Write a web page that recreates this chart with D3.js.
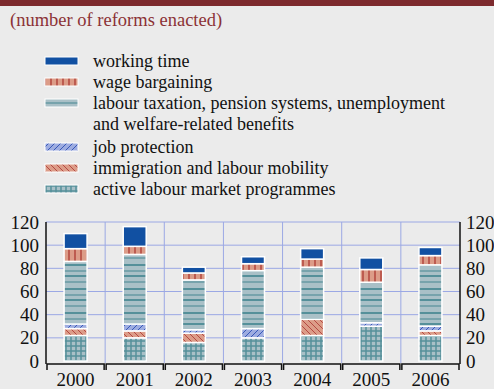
<!DOCTYPE html>
<html>
<head>
<meta charset="utf-8">
<script src="https://cdn.jsdelivr.net/npm/d3@7"></script>
<style>
  body { margin: 0; background: #ebebeb; }
  svg text { font-family: "Liberation Serif", "Times New Roman", serif; }
</style>
</head>
<body>
<svg id="chart" width="494" height="389"></svg>
<script>
var years = ["2000", "2001", "2002", "2003", "2004", "2005", "2006"];

// stacked bottom -> top
var active      = [22, 20, 16, 20, 22, 30, 22];
var immigration = [6, 6, 8, 0, 14, 0, 4];
var jobProt     = [4, 6, 3, 8, 0, 3, 4];
var labourTax   = [54, 60, 43, 50, 45, 35, 53];
var wage        = [11, 7, 6, 6, 7, 11, 8];
var workTime    = [13, 17, 5, 6, 9, 10, 7];

var yTicks = [0, 20, 40, 60, 80, 100, 120];

var series = [
  {key: "active", label: ["active labour market programmes"], values: active, fill: "url(#pActive)"},
  {key: "immig", label: ["immigration and labour mobility"], values: immigration, fill: "url(#pImmig)"},
  {key: "job", label: ["job protection"], values: jobProt, fill: "url(#pJob)"},
  {key: "labour", label: ["labour taxation, pension systems, unemployment", "and welfare-related benefits"], values: labourTax, fill: "url(#pLabour)"},
  {key: "wage", label: ["wage bargaining"], values: wage, fill: "url(#pWage)"},
  {key: "work", label: ["working time"], values: workTime, fill: "#1150a2"}
];

var svg = d3.select("#chart");

// background and top band
svg.append("rect").attr("width", 494).attr("height", 389).attr("fill", "#ebebeb");
svg.append("rect").attr("width", 494).attr("height", 6).attr("fill", "#7d2a2e");

svg.append("text")
    .attr("x", 10).attr("y", 26)
    .attr("font-size", 18.5)
    .attr("fill", "#8b3236")
    .text("(number of reforms enacted)");

// patterns
var defs = svg.append("defs");

function pat(id, w, h, bg) {
  var p = defs.append("pattern").attr("id", id)
      .attr("patternUnits", "userSpaceOnUse")
      .attr("width", w).attr("height", h);
  p.append("rect").attr("width", w).attr("height", h).attr("fill", bg);
  return p;
}

var p1 = pat("pWage", 6, 6, "#dc9c88");
p1.append("line").attr("x1", 3).attr("x2", 3).attr("y1", 0).attr("y2", 6)
    .attr("stroke", "#a8302a").attr("stroke-width", 1.2);

var p2 = pat("pLabour", 30, 24, "#a9c0c7");
[[1, 2], [7, 1.2], [12, 2], [18, 1.2]].forEach(function(l) {
  p2.append("line").attr("x1", 0).attr("x2", 30).attr("y1", l[0]).attr("y2", l[0])
      .attr("stroke", "#55909a").attr("stroke-width", l[1]);
});

var p3 = pat("pJob", 6, 6, "#9dace0");
p3.append("path").attr("d", "M0,6 L6,0 M-1,1 L1,-1 M5,7 L7,5")
    .attr("stroke", "#2c4fb4").attr("stroke-width", 0.9);

var p4 = pat("pImmig", 6, 6, "#dc9c88");
p4.append("path").attr("d", "M0,0 L6,6 M-1,5 L1,7 M5,-1 L7,1")
    .attr("stroke", "#b0403a").attr("stroke-width", 0.9);

var p5 = pat("pActive", 5, 5, "#a9c0c7");
p5.append("line").attr("x1", 0).attr("x2", 5).attr("y1", 1).attr("y2", 1)
    .attr("stroke", "#55909a").attr("stroke-width", 1.5);
p5.append("line").attr("x1", 1).attr("x2", 1).attr("y1", 0).attr("y2", 5)
    .attr("stroke", "#55909a").attr("stroke-width", 1.5);

// legend
var legendOrder = series.slice().reverse();
var rowY = [61, 82, 103, 147, 168, 189];
var legend = svg.append("g");
legendOrder.forEach(function(s, i) {
  legend.append("rect")
      .attr("x", 45).attr("y", rowY[i] - 4).attr("width", 33).attr("height", 8)
      .attr("fill", s.fill).attr("stroke", "#fff").attr("stroke-width", 1);
  s.label.forEach(function(t, j) {
    legend.append("text")
        .attr("x", 93).attr("y", rowY[i] + j * 21)
        .attr("dy", "0.33em")
        .attr("font-size", 18)
        .attr("fill", "#111")
        .text(t);
  });
});

// chart
var x0 = 46, x1 = 460, yTop = 222, yBot = 361;
var x = d3.scaleBand().domain(years).range([x0, x1]).paddingInner(0).paddingOuter(0);
var y = d3.scaleLinear().domain([0, 120]).range([yBot, yTop]);

var grid = svg.append("g").attr("stroke", "#9ba8e4").attr("stroke-width", 1);
yTicks.forEach(function(t) {
  if (t === 0) return;
  grid.append("line").attr("x1", x0).attr("x2", x1).attr("y1", y(t)).attr("y2", y(t));
});
years.forEach(function(yr, i) {
  if (i === 0) return;
  grid.append("line").attr("x1", x(yr)).attr("x2", x(yr)).attr("y1", yTop).attr("y2", yBot + 2);
});

// stacked bars
var table = years.map(function(yr, i) {
  var row = {year: yr};
  series.forEach(function(s) { row[s.key] = s.values[i]; });
  return row;
});
var stack = d3.stack().keys(series.map(function(s) { return s.key; }))(table);

var bw = 23;
svg.append("g").selectAll("g")
    .data(stack)
  .enter().append("g")
    .attr("fill", function(d, i) { return series[i].fill; })
  .selectAll("rect")
    .data(function(d) { return d.filter(function(v) { return v[1] > v[0]; }); })
  .enter().append("rect")
    .attr("x", function(d) { return x(d.data.year) + x.bandwidth() / 2 - bw / 2; })
    .attr("y", function(d) { return y(d[1]); })
    .attr("width", bw)
    .attr("height", function(d) { return y(d[0]) - y(d[1]); })
    .attr("stroke", "#fff")
    .attr("stroke-width", 1.5);

// axes
var axisY = yBot + 3;
svg.append("line").attr("x1", x0).attr("x2", x0).attr("y1", yTop).attr("y2", axisY)
    .attr("stroke", "#111").attr("stroke-width", 1.5);
svg.append("line").attr("x1", x1).attr("x2", x1).attr("y1", yTop).attr("y2", axisY)
    .attr("stroke", "#111").attr("stroke-width", 1.5);

var brackets = svg.append("g").attr("fill", "none").attr("stroke", "#111").attr("stroke-width", 1.5);
years.forEach(function(yr) {
  var a = x(yr) + 1, b = x(yr) + x.bandwidth() - 1;
  brackets.append("path")
      .attr("d", "M" + a + "," + (axisY + 6) + "V" + axisY + "H" + b + "V" + (axisY + 6));
});

var yAxisL = d3.axisLeft(y).tickValues(yTicks).tickSize(0).tickPadding(7);
var yAxisR = d3.axisRight(y).tickValues(yTicks).tickSize(0).tickPadding(6);
var gl = svg.append("g").attr("transform", "translate(" + x0 + ",0)").call(yAxisL);
var gr = svg.append("g").attr("transform", "translate(" + x1 + ",0)").call(yAxisR);
[gl, gr].forEach(function(g) {
  g.select(".domain").remove();
  g.selectAll("text")
      .attr("font-family", "Liberation Serif, serif")
      .attr("font-size", 19).attr("fill", "#111");
});

var xAxis = d3.axisBottom(x).tickSize(0).tickPadding(9);
var gx = svg.append("g").attr("transform", "translate(0," + axisY + ")").call(xAxis);
gx.select(".domain").remove();
gx.selectAll("text")
    .attr("font-family", "Liberation Serif, serif")
    .attr("font-size", 19).attr("fill", "#111");
</script>
</body>
</html>
